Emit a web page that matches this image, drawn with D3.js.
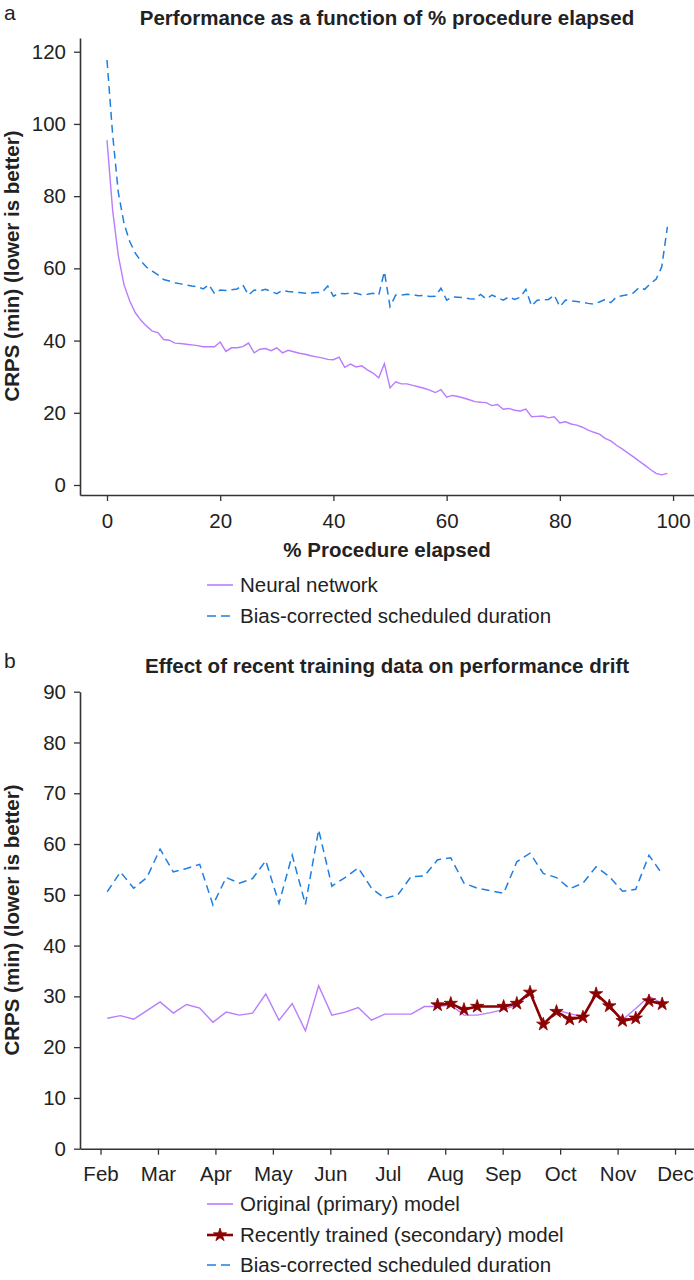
<!DOCTYPE html>
<html><head><meta charset="utf-8">
<script src="https://cdn.jsdelivr.net/npm/d3@7"></script>
<style>body{margin:0;background:#fff}text{font-family:"Liberation Sans",Arial,sans-serif;fill:#222}</style>
</head><body>
<svg id="c" width="694" height="1280"></svg>
<script>
// ---------- Panel a data ----------
const pctElapsed = d3.range(0, 100);
const nnA = [95.5,76,63.5,55.5,51,47.7,45.6,44,42.6,42.2,
  40.3,40.1,39.3,39.2,39,38.8,38.6,38.3,38.3,38.3,
  39.6,37,38,38,38.3,39.3,36.6,37.6,37.8,37.2,
  38,36.6,37.3,36.9,36.5,36.2,35.8,35.5,35.2,34.8,
  34.7,35.4,32.6,33.5,32.7,33,31.9,31.0,29.7,33.6,
  26.9,28.6,28.0,28.0,27.6,27.2,26.8,26.3,25.6,26.4,
  24.3,24.8,24.5,24.1,23.6,23.1,22.9,22.8,22.0,22.3,
  21.0,21.2,20.7,20.5,21.0,18.9,19.0,19.1,18.6,18.9,
  17.2,17.5,16.9,16.6,16.0,15.2,14.6,14.1,12.9,12.2,
  11.0,10.0,8.9,7.8,6.6,5.5,4.3,3.2,2.8,3.2];
const bcA = [117.7,97,81,72.5,67.5,64.2,62,60.3,59.2,58.2,
  56.9,56.5,56.0,55.7,55.4,55.1,54.9,54.3,55.5,53.0,
  54.0,53.9,54.1,54.3,55.4,52.6,54.0,53.8,54.2,53.6,
  53.0,53.9,53.6,53.4,53.3,53.1,53.2,53.3,53.4,55.1,
  52.3,53.1,53.0,53.1,53.1,52.7,52.8,53.1,52.6,59.1,
  49.4,52.6,52.6,52.8,52.7,52.4,52.5,52.2,52.3,54.5,
  51.2,52.1,52.0,51.9,51.6,51.5,52.8,51.5,52.6,51.9,
  51.2,52.1,51.4,52.0,54.2,49.6,51.2,51.3,51.4,52.6,
  49.4,51.2,51.0,50.8,50.6,50.3,50.1,50.7,51.4,50.5,
  52.1,52.4,52.7,53.2,54.7,54.2,55.8,57.0,60.4,71.5];
const xTicksA = [0, 20, 40, 60, 80, 100];
const yTicksA = [0, 20, 40, 60, 80, 100, 120];

// ---------- Panel b data ----------
const firstWeek = "2019-02-04";
const nWeeks = 43;
const origB = [25.7,26.2,25.5,27.2,28.9,26.7,28.4,27.7,24.9,26.9,
  26.3,26.7,30.5,25.3,28.6,23.2,32.1,26.3,26.9,27.8,
  25.3,26.5,26.5,26.5,28.0,28.0,28.3,26.3,26.3,26.8,
  27.4,28.3,30.6,24.5,27.3,26.6,26.0,30.4,28.1,25.4,
  27.6,30.0,28.6];
const secWeeks = [25,26,27,28,30,31,32,33,34,35,36,37,38,39,40,41,42];
const secB = [28.3,28.6,27.4,28.0,28.0,28.6,30.8,24.5,27.0,25.5,25.9,30.5,28.1,25.2,25.7,29.1,28.5];
const bcB = [50.6,54.5,51.3,53.4,59.0,54.5,55.2,56.0,48.0,53.4,
  52.3,53.2,56.7,48.3,57.8,48.1,62.8,51.7,53.4,55.3,
  51.3,49.3,50.0,53.6,53.7,56.9,57.3,52.3,51.3,50.8,
  50.3,56.5,58.2,54.2,53.4,51.2,52.3,55.5,53.6,50.7,
  51.1,57.8,54.1];
const monthLabels = ["Feb","Mar","Apr","May","Jun","Jul","Aug","Sep","Oct","Nov","Dec"];
const yTicksB = [0,10,20,30,40,50,60,70,80,90];

// ---------- styles ----------
const C_NN = "#b97cff", C_BC = "#1f7fe0", C_SEC = "#8b0000", C_AX = "#333";
const FS = 20.5;
const svg = d3.select("#c");

function styleAxis(g) {
  g.selectAll("path.domain").attr("stroke", C_AX).attr("stroke-width", 1.6);
  g.selectAll(".tick line").attr("stroke", C_AX).attr("stroke-width", 1.3);
  g.selectAll(".tick text").style("font-size", FS + "px").attr("fill", "#222");
}

// ================= Panel a =================
const xA = d3.scaleLinear().domain([-4.77, 103.7]).range([80, 694]);
const yA = d3.scaleLinear().domain([-2.77, 123.8]).range([495, 38]);

svg.append("text").attr("x", 4).attr("y", 20).style("font-size", "21px").text("a");
svg.append("text").attr("x", 387).attr("y", 25).attr("text-anchor", "middle")
  .style("font-size", "20.5px").style("font-weight", "bold")
  .text("Performance as a function of % procedure elapsed");

const gxA = svg.append("g").attr("transform", "translate(0,495)")
  .call(d3.axisBottom(xA).tickValues(xTicksA).tickSize(6).tickSizeOuter(0).tickPadding(12));
styleAxis(gxA);
const gyA = svg.append("g").attr("transform", "translate(80,0)")
  .call(d3.axisLeft(yA).tickValues(yTicksA).tickSize(6).tickSizeOuter(0).tickPadding(8));
styleAxis(gyA);

svg.append("text").attr("transform", "translate(18.5,266) rotate(-90)").attr("text-anchor", "middle")
  .style("font-size", "20.5px").style("font-weight", "bold").text("CRPS (min) (lower is better)");
svg.append("text").attr("x", 387).attr("y", 557).attr("text-anchor", "middle")
  .style("font-size", "20.5px").style("font-weight", "bold").text("% Procedure elapsed");

const lineA = d3.line().x((d, i) => xA(pctElapsed[i])).y(d => yA(d));
svg.append("path").datum(bcA).attr("d", lineA).attr("fill", "none")
  .attr("stroke", C_BC).attr("stroke-width", 1.5).attr("stroke-dasharray", "8,5");
svg.append("path").datum(nnA).attr("d", lineA).attr("fill", "none")
  .attr("stroke", C_NN).attr("stroke-width", 1.4);

// legend a
const legA = [{t:"Neural network", c:C_NN, dash:null, y:585},
              {t:"Bias-corrected scheduled duration", c:C_BC, dash:"9,5", y:616}];
legA.forEach(l => {
  svg.append("line").attr("x1", 207).attr("x2", 233).attr("y1", l.y).attr("y2", l.y)
    .attr("stroke", l.c).attr("stroke-width", 1.6).attr("stroke-dasharray", l.dash);
  svg.append("text").attr("x", 240).attr("y", l.y).attr("dy", "0.36em")
    .style("font-size", FS + "px").text(l.t);
});

// ================= Panel b =================
const parse = d3.timeParse("%Y-%m-%d");
const t0 = parse(firstWeek);
const weekDates = d3.range(nWeeks).map(i => d3.timeDay.offset(t0, 7 * i));
const monthUnit = d => 1 + d3.timeDay.count(d3.timeYear(d), d) / 30.4375;

const xB = d3.scaleLinear().domain([1.643, 12.33]).range([80, 694]);
const yB = d3.scaleLinear().domain([0, 90]).range([1148.7, 691.7]);

svg.append("text").attr("x", 4).attr("y", 668).style("font-size", "21px").text("b");
svg.append("text").attr("x", 387).attr("y", 673).attr("text-anchor", "middle")
  .style("font-size", "20.5px").style("font-weight", "bold")
  .text("Effect of recent training data on performance drift");

const monthTickVals = monthLabels.map((m, i) => i + 2);
const gxB = svg.append("g").attr("transform", "translate(0,1148.7)")
  .call(d3.axisBottom(xB).tickValues(monthTickVals).tickFormat((d, i) => monthLabels[i])
    .tickSize(6).tickSizeOuter(0).tickPadding(12));
styleAxis(gxB);
const gyB = svg.append("g").attr("transform", "translate(80,0)")
  .call(d3.axisLeft(yB).tickValues(yTicksB).tickSize(6).tickSizeOuter(0).tickPadding(8));
styleAxis(gyB);

svg.append("text").attr("transform", "translate(18.5,920) rotate(-90)").attr("text-anchor", "middle")
  .style("font-size", "20.5px").style("font-weight", "bold").text("CRPS (min) (lower is better)");

const lineB = d3.line().x(d => xB(monthUnit(d.date))).y(d => yB(d.v));
const bcData = bcB.map((v, i) => ({date: weekDates[i], v}));
const orData = origB.map((v, i) => ({date: weekDates[i], v}));
const secData = secB.map((v, i) => ({date: weekDates[secWeeks[i]], v}));

svg.append("path").datum(bcData).attr("d", lineB).attr("fill", "none")
  .attr("stroke", C_BC).attr("stroke-width", 1.5).attr("stroke-dasharray", "8,5");
svg.append("path").datum(orData).attr("d", lineB).attr("fill", "none")
  .attr("stroke", C_NN).attr("stroke-width", 1.4);
svg.append("path").datum(secData).attr("d", lineB).attr("fill", "none")
  .attr("stroke", C_SEC).attr("stroke-width", 2.6);
const star = d3.symbol().type(d3.symbolStar).size(55);
svg.selectAll("path.star").data(secData).join("path").attr("class", "star")
  .attr("d", star).attr("transform", d => `translate(${xB(monthUnit(d.date))},${yB(d.v)})`)
  .attr("fill", C_SEC).attr("stroke", C_SEC).attr("stroke-width", 0.8);

// legend b
const legB = [{t:"Original (primary) model", c:C_NN, dash:null, y:1204, w:1.6},
              {t:"Recently trained (secondary) model", c:C_SEC, dash:null, y:1235, w:2.6, star:true},
              {t:"Bias-corrected scheduled duration", c:C_BC, dash:"9,5", y:1265, w:1.6}];
legB.forEach(l => {
  svg.append("line").attr("x1", 207).attr("x2", 233).attr("y1", l.y).attr("y2", l.y)
    .attr("stroke", l.c).attr("stroke-width", l.w).attr("stroke-dasharray", l.dash);
  if (l.star) svg.append("path").attr("d", star).attr("transform", `translate(220,${l.y})`)
    .attr("fill", C_SEC).attr("stroke", C_SEC).attr("stroke-width", 0.8);
  svg.append("text").attr("x", 240).attr("y", l.y).attr("dy", "0.36em")
    .style("font-size", FS + "px").text(l.t);
});
</script>
</body></html>
